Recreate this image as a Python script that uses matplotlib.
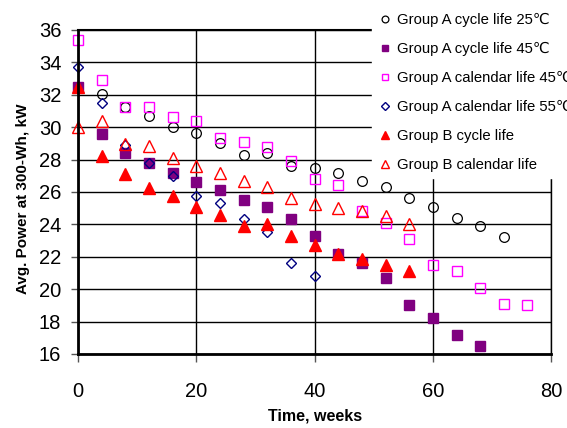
import matplotlib
matplotlib.use("Agg")
import matplotlib.pyplot as plt

plt.rcParams['font.family'] = ['Liberation Sans', 'DejaVu Sans']

# power fade data, kW at 300 Wh
weeks_a25 = [0, 4, 8, 12, 16, 20, 24, 28, 32, 36, 40, 44, 48, 52, 56, 60, 64, 68, 72]
power_a25 = [32.5, 32.05, 31.25, 30.7, 30.0, 29.65, 29.0, 28.3, 28.4, 27.6, 27.5, 27.2,
             26.7, 26.3, 25.6, 25.1, 24.4, 23.9, 23.2]

weeks_a45 = [0, 4, 8, 12, 16, 20, 24, 28, 32, 36, 40, 44, 48, 52, 56, 60, 64, 68]
power_a45 = [32.5, 29.6, 28.4, 27.8, 27.2, 26.6, 26.1, 25.5, 25.1, 24.3, 23.3, 22.2,
             21.6, 20.7, 19.0, 18.2, 17.2, 16.5]

weeks_acal45 = [0, 4, 8, 12, 16, 20, 24, 28, 32, 36, 40, 44, 48, 52, 56, 60, 64, 68, 72, 76]
power_acal45 = [35.4, 32.9, 31.25, 31.25, 30.6, 30.4, 29.3, 29.1, 28.8, 27.9, 26.8, 26.4,
                24.8, 24.1, 23.1, 21.5, 21.1, 20.1, 19.1, 19.0]

weeks_acal55 = [0, 4, 8, 12, 16, 20, 24, 28, 32, 36, 40]
power_acal55 = [33.7, 31.5, 28.9, 27.8, 27.0, 25.75, 25.3, 24.3, 23.5, 21.6, 20.8]

weeks_bcyc = [0, 4, 8, 12, 16, 20, 24, 28, 32, 36, 40, 44, 48, 52, 56]
power_bcyc = [32.5, 28.2, 27.1, 26.25, 25.75, 25.1, 24.6, 23.9, 24.0, 23.3, 22.7, 22.2,
              21.85, 21.5, 21.1]

weeks_bcal = [0, 4, 8, 12, 16, 20, 24, 28, 32, 36, 40, 44, 48, 52, 56]
power_bcal = [30.0, 30.4, 28.95, 28.85, 28.1, 27.6, 27.2, 26.7, 26.3, 25.6, 25.25, 25.0,
              24.8, 24.5, 24.0]

fig = plt.figure(figsize=(5.67, 4.28), dpi=100)
ax = fig.add_axes([0.1376, 0.173, 0.8344, 0.757])

ax.plot(weeks_a25, power_a25, ls='none', marker='o', ms=7, mfc='none', mec='black',
        mew=0.9, clip_on=False, label='Group A cycle life 25\u2103')
ax.plot(weeks_a45, power_a45, ls='none', marker='s', ms=6.5, mfc='#800080', mec='#800080',
        clip_on=False, label='Group A cycle life 45\u2103')
ax.plot(weeks_acal45, power_acal45, ls='none', marker='s', ms=7, mfc='none', mec='#ff00ff',
        mew=1.0, clip_on=False, label='Group A calendar life 45\u2103')
ax.plot(weeks_acal55, power_acal55, ls='none', marker='D', ms=5.5, mfc='none', mec='#000080',
        mew=1.0, clip_on=False, label='Group A calendar life 55\u2103')
ax.plot(weeks_bcyc, power_bcyc, ls='none', marker='^', ms=8, mfc='red', mec='red',
        clip_on=False, label='Group B cycle life')
ax.plot(weeks_bcal, power_bcal, ls='none', marker='^', ms=8, mfc='none', mec='red',
        mew=1.0, clip_on=False, label='Group B calendar life')

ax.set_xlim(0, 80)
ax.set_ylim(16, 36)
ax.set_xticks([0, 20, 40, 60, 80])
ax.set_yticks(range(16, 37, 2))
ax.tick_params(labelsize=14.5, direction='out', width=1, color='#555555')
ax.tick_params(axis='x', length=6, pad=14)
ax.tick_params(axis='y', length=5, pad=7)

ax.grid(True, color='black', lw=1)
ax.set_axisbelow(True)
for side in ['left', 'bottom']:
    ax.spines[side].set_linewidth(2)
ax.spines['top'].set_linewidth(1.5)
ax.spines['right'].set_linewidth(1)

ax.set_xlabel('Time, weeks', fontsize=11.5, fontweight='bold', va='center')
ax.xaxis.set_label_coords(0.5, -0.191)
ax.set_ylabel('Avg. Power at 300-Wh, kW', fontsize=11, fontweight='bold', va='center')
ax.yaxis.set_label_coords(-0.116, 0.48)

leg = fig.legend(loc='upper left', bbox_to_anchor=(0.650, 0.99), frameon=True,
                 fontsize=10.7, labelspacing=1.0, handletextpad=0.3,
                 handlelength=1.0, markerscale=0.7, borderaxespad=0.2)
leg.get_frame().set_edgecolor('white')
leg.get_frame().set_facecolor('white')
leg.get_frame().set_alpha(1)
leg.get_frame().set_boxstyle('square', pad=0.0)

fig.savefig('out.png', dpi=100)
